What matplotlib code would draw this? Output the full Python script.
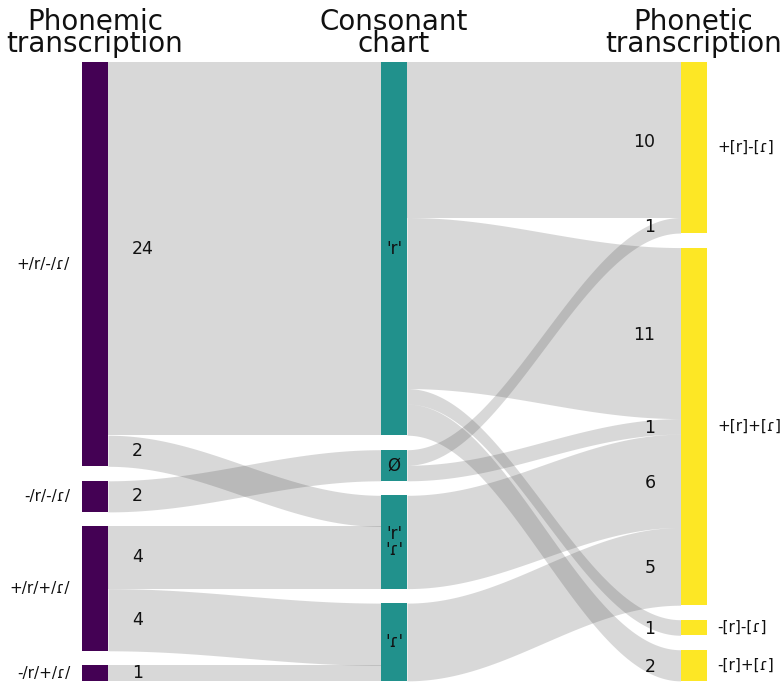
import matplotlib
matplotlib.use("Agg")
import matplotlib.pyplot as plt
import numpy as np

# ---------------- data ----------------
headers = ["Phonemic\ntranscription", "Consonant\nchart", "Phonetic\ntranscription"]
left_nodes = ["+/r/-/ɾ/", "-/r/-/ɾ/", "+/r/+/ɾ/", "-/r/+/ɾ/"]
mid_nodes = ["'r'", "Ø", "'r'\n'ɾ'", "'ɾ'"]
right_nodes = ["+[r]-[ɾ]", "+[r]+[ɾ]", "-[r]-[ɾ]", "-[r]+[ɾ]"]

# flows phonemic -> consonant chart
lm_src = [0, 0, 1, 2, 2, 3]
lm_tgt = [0, 2, 1, 2, 3, 3]
lm_val = [24, 2, 2, 4, 4, 1]

# flows consonant chart -> phonetic
mr_src = [0, 0, 0, 0, 1, 1, 2, 3]
mr_tgt = [0, 1, 2, 3, 0, 1, 1, 1]
mr_val = [10, 11, 1, 2, 1, 1, 6, 5]

# ---------------- layout / style ----------------
W, H = 782, 683
fig = plt.figure(figsize=(W / 100, H / 100), dpi=100)
ax = fig.add_axes([0, 0, 1, 1])
ax.set_xlim(0, W)
ax.set_ylim(H, 0)
ax.axis("off")

cmap = plt.get_cmap("viridis")
col_colors = [cmap(0.0), cmap(0.5), cmap(1.0)]
col_x = [82, 381, 680.5]
node_w = 26
y_top = 62
unit = 15.55
gap = 14.5
flow_color = "#404040"
flow_alpha = 0.2
txt_color = "#111111"

def totals(n, idx, vals):
    t = [0] * n
    for i, v in zip(idx, vals):
        t[i] += v
    return t

left_tot = totals(len(left_nodes), lm_src, lm_val)
mid_tot = totals(len(mid_nodes), lm_tgt, lm_val)
right_tot = totals(len(right_nodes), mr_tgt, mr_val)

def node_positions(tot):
    pos = []
    y = y_top
    for t in tot:
        pos.append((y, y + t * unit))
        y += t * unit + gap
    return pos

left_pos = node_positions(left_tot)
mid_pos = node_positions(mid_tot)
right_pos = node_positions(right_tot)

def draw_flows(src, tgt, val, spos, tpos, x0, x1):
    s_off = [p[0] for p in spos]
    t_off = [p[0] for p in tpos]
    segs = []
    xs = np.linspace(x0, x1, 200)
    tt = (xs - x0) / (x1 - x0)
    s = 0.5 - 0.5 * np.cos(np.pi * tt)
    for a, b, v in zip(src, tgt, val):
        h = v * unit
        ys0, ys1 = s_off[a], s_off[a] + h
        yt0, yt1 = t_off[b], t_off[b] + h
        s_off[a] += h
        t_off[b] += h
        top = ys0 + (yt0 - ys0) * s
        bot = ys1 + (yt1 - ys1) * s
        ax.fill_between(xs, top, bot, color=flow_color, alpha=flow_alpha,
                        lw=0, zorder=1)
        segs.append(((ys0 + ys1) / 2, (yt0 + yt1) / 2, v))
    return segs

lm_segs = draw_flows(lm_src, lm_tgt, lm_val, left_pos, mid_pos,
                     col_x[0] + node_w, col_x[1])
mr_segs = draw_flows(mr_src, mr_tgt, mr_val, mid_pos, right_pos,
                     col_x[1] + node_w, col_x[2])

# nodes
for positions, cx, colr in zip([left_pos, mid_pos, right_pos], col_x, col_colors):
    for (y0, y1) in positions:
        ax.add_patch(plt.Rectangle((cx, y0), node_w, y1 - y0, color=colr,
                                   lw=0, zorder=3))

fs_node = 11
fs_val = 12.5
# node labels
for (y0, y1), lab in zip(left_pos, left_nodes):
    ax.text(col_x[0] - 12, (y0 + y1) / 2, lab, ha="right", va="center",
            fontsize=fs_node, color=txt_color, zorder=5)
for (y0, y1), lab in zip(mid_pos, mid_nodes):
    ax.text(col_x[1] + node_w / 2, (y0 + y1) / 2, lab, ha="center",
            va="center", fontsize=12, color=txt_color, zorder=5,
            linespacing=0.85)
for (y0, y1), lab in zip(right_pos, right_nodes):
    ax.text(col_x[2] + node_w + 11, (y0 + y1) / 2, lab, ha="left",
            va="center", fontsize=fs_node, color=txt_color, zorder=5)

# flow value labels
for ys, yt, v in lm_segs:
    ax.text(col_x[0] + node_w + 24, ys, str(v), ha="left", va="center",
            fontsize=fs_val, color=txt_color, zorder=5)
for ys, yt, v in mr_segs:
    ax.text(col_x[2] - 25, yt + 2, str(v), ha="right", va="center",
            fontsize=fs_val, color=txt_color, zorder=5)

# headers
for cx, hd in zip(col_x, headers):
    ax.text(cx + node_w / 2, 33, hd, ha="center", va="center", fontsize=20,
            color=txt_color, linespacing=0.72)

fig.savefig("out.png", dpi=100)
